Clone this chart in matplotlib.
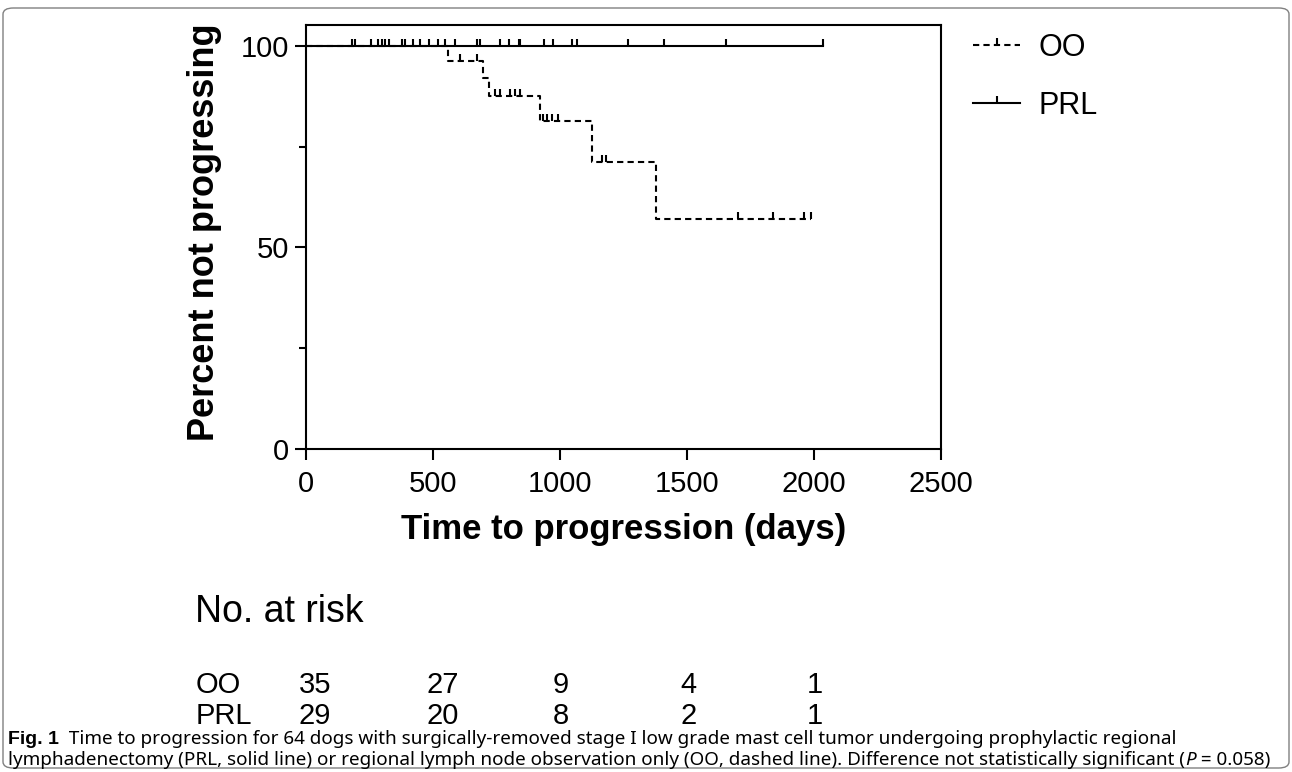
import matplotlib
matplotlib.use('Agg')
import matplotlib.pyplot as plt
import numpy as np
from matplotlib.path import Path
from matplotlib.lines import Line2D
from matplotlib.patches import FancyBboxPatch
from matplotlib.transforms import blended_transform_factory, offset_copy

# PRL group: no progression, only censored dogs (days)
prl_censor_days = [181, 193, 256, 283, 299, 311, 327, 378, 390, 421, 449, 484,
                   520, 547, 587, 673, 685, 764, 799, 839, 843, 937, 972,
                   1047, 1067, 1268, 1409, 1654, 2035]
prl_end_day = 2035

# OO group: step curve
oo_step_days = [0, 560, 697, 720, 921, 1126, 1378]
oo_step_pct = [100, 96.3, 92.0, 87.6, 81.4, 71.2, 57.0]
oo_end_day = 1990
oo_censor_days = [606, 673, 745, 762, 805, 822, 843, 933, 950, 970, 992,
                  1165, 1180, 1700, 1840, 1960, 1990]

# number at risk table
risk_days = [0, 500, 1000, 1500, 2000]
risk_oo = [35, 27, 9, 4, 1]
risk_prl = [29, 20, 8, 2, 1]

plt.rcParams['font.family'] = ['Liberation Sans', 'DejaVu Sans']

W, H = 1292, 772
fig = plt.figure(figsize=(W / 100, H / 100), dpi=100)
ax = fig.add_axes([306 / W, 1 - 449 / H, 635 / W, 424 / H])

# censor mark: short vertical tick pointing up
tick = Path([(0, 0), (0, 1)])
lw = 1.5

# PRL curve
ax.plot([0, prl_end_day], [100, 100], color='k', lw=lw)
ax.plot(prl_censor_days, [100] * len(prl_censor_days), ls='none',
        marker=tick, ms=10, mew=lw, color='k')

# OO curve
xs = oo_step_days + [oo_end_day]
ys = oo_step_pct + [oo_step_pct[-1]]
ax.step(xs, ys, where='post', color='k', lw=lw, ls=(0, (3, 2)))
idx = np.searchsorted(oo_step_days, oo_censor_days, side='right') - 1
oo_censor_pct = [oo_step_pct[i] for i in idx]
ax.plot(oo_censor_days, oo_censor_pct, ls='none', marker=tick, ms=10,
        mew=lw, color='k')

ax.set_xlim(0, 2500)
ax.set_ylim(0, 105.2)
ax.set_xticks([0, 500, 1000, 1500, 2000, 2500])
ax.set_yticks([0, 50, 100])
ax.set_yticks([25, 75], minor=True)
ax.tick_params(axis='both', which='major', direction='out', length=8,
               width=lw, labelsize=21)
ax.tick_params(axis='x', pad=7)
ax.tick_params(axis='y', pad=4)
ax.tick_params(axis='y', which='minor', direction='out', length=5, width=lw)
for s in ax.spines.values():
    s.set_linewidth(lw)

fig.text(624 / W, 1 - 530 / H, 'Time to progression (days)', fontsize=25,
         fontweight='bold', ha='center', va='center')
fig.text(205 / W, 1 - 232 / H, 'Percent not progressing', fontsize=26,
         fontweight='bold', ha='center', va='center', rotation=90)

# legend
handles = [Line2D([], [], color='k', lw=lw, ls=(0, (3, 2)), marker=tick,
                  ms=10, mew=lw),
           Line2D([], [], color='k', lw=lw, marker=tick, ms=10, mew=lw)]
fig.legend(handles, ['OO', 'PRL'], loc='upper left',
           bbox_to_anchor=(973 / W, 1 - 33 / H), frameon=False, fontsize=22,
           handlelength=1.55, handletextpad=0.6, labelspacing=0.9,
           borderpad=0, borderaxespad=0, numpoints=1)

# number at risk
fig.text(195 / W, 1 - 612 / H, 'No. at risk', fontsize=27, va='center')
fig.text(196 / W, 1 - 685 / H, 'OO', fontsize=21, va='center')
fig.text(196 / W, 1 - 716 / H, 'PRL', fontsize=21, va='center')
tr = blended_transform_factory(ax.transData, fig.transFigure)
tr = offset_copy(tr, fig=fig, x=-7, y=0, units='dots')
for d, a, b in zip(risk_days, risk_oo, risk_prl):
    ax.text(d, 1 - 685 / H, str(a), transform=tr, fontsize=21, va='center')
    ax.text(d, 1 - 716 / H, str(b), transform=tr, fontsize=21, va='center')

# caption
cap = dict(family=['Noto Sans', 'DejaVu Sans'], fontsize=13.6,
           va='center', ha='left')
renderer = fig.canvas.get_renderer()


def put_line(parts, x, y):
    for s, kw in parts:
        opts = dict(cap)
        opts.update(kw)
        t = fig.text(x / W, 1 - y / H, s, **opts)
        x = t.get_window_extent(renderer=renderer).x1


put_line([('Fig. 1', dict(family=['Liberation Sans', 'DejaVu Sans'],
                          fontweight='bold', fontsize=14)),
          ('  Time to progression for 64 dogs with surgically-removed stage I '
           'low grade mast cell tumor undergoing prophylactic regional', {})],
         8, 739)
put_line([('lymphadenectomy (PRL, solid line) or regional lymph node observation '
           'only (OO, dashed line). Difference not statistically significant (', {}),
          ('P', dict(style='italic')),
          (' = 0.058)', {})], 8, 760)

# rounded border around the panel
fig.patches.append(FancyBboxPatch((3 / W, 4 / H), 1286 / W, 760 / H,
                                  boxstyle='round,pad=0,rounding_size=0.008',
                                  transform=fig.transFigure, fill=False,
                                  ec='#808080', lw=1))

fig.savefig('out.png', dpi=100)
